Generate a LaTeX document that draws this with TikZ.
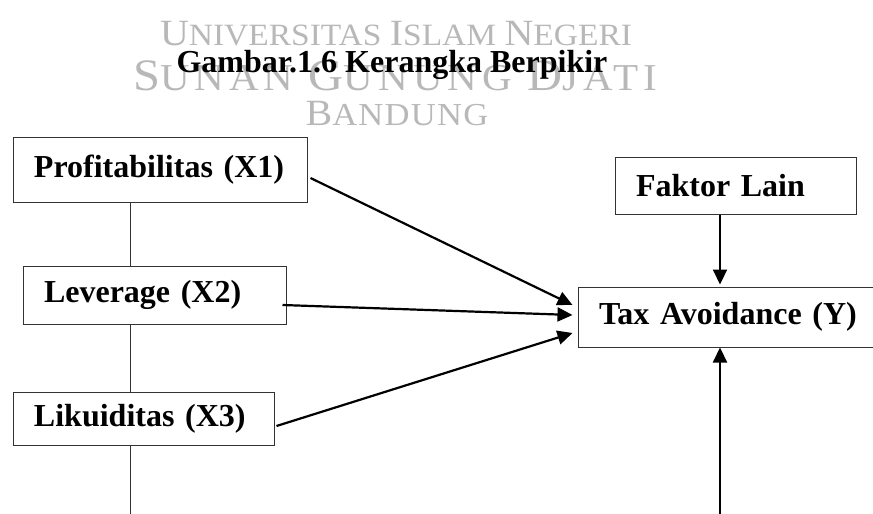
\documentclass[tikz,border=0pt]{standalone}
\usepackage{fontspec}
\setmainfont{Liberation Serif}
\newfontfamily\wmfont[FakeStretch=1.08]{Liberation Serif}
\usetikzlibrary{arrows.meta}

% big first letter, smaller rest
\newcommand{\capword}[4]{{\fontsize{#1}{#1}\selectfont #3}{\fontsize{#2}{#2}\selectfont #4}}

\tikzset{
  varbox/.style={draw=black!80,line width=1pt,rectangle,inner xsep=21pt,inner ysep=0pt,
    align=left,font=\fontsize{32}{38}\selectfont\bfseries},
  link/.style={line width=2.2pt,-{Triangle[length=15pt,width=14pt]}},
  spine/.style={line width=1pt,draw=black!80},
  watermark/.style={text=black!28,inner sep=0pt,anchor=base}
}

\begin{document}
\begin{tikzpicture}[x=1pt,y=-1pt]
	\useasboundingbox (0,0) rectangle (873,514);

	% Watermark
	\node[watermark,font=\wmfont\fontsize{31}{31}\selectfont] (wm1) at (396,45) {\capword{37}{31}{U}{NIVERSITAS} \capword{37}{31}{I}{SLAM} \capword{37}{31}{N}{EGERI}};
	\node[watermark,font=\wmfont\fontsize{38}{38}\selectfont] (wm2) at (395,90) {\addfontfeatures{LetterSpace=13}\capword{45}{38}{S}{UNAN} \capword{45}{38}{G}{UNUNG} \capword{45}{38}{D}{JATI}};
	\node[watermark,font=\wmfont\fontsize{32}{32}\selectfont] (wm3) at (397,125) {\addfontfeatures{LetterSpace=4}\capword{37}{32}{B}{ANDUNG}};

	% Title
	\node[anchor=base,inner sep=0pt,font=\fontsize{32}{38}\selectfont\bfseries] (title) at (392,72) {Gambar.1.6 Kerangka Berpikir};

	% Variables
	\node[varbox,text width=252pt,minimum height=65pt] (prof) at (160,169.5) {Profitabilitas (X1)};
	\node[varbox,text width=221pt,minimum height=58pt] (lev) at (154.5,295) {Leverage (X2)};
	\node[varbox,text width=219pt,minimum height=53pt] (lik) at (143.5,418.5) {Likuiditas (X3)};
	\node[varbox,text width=199pt,minimum height=57pt] (faktor) at (735.5,185.5) {Faktor Lain};
	\node[varbox,text width=260pt,minimum height=60pt] (tax) at (729,317) {Tax Avoidance (Y)};

	% Line joining the X boxes
	\coordinate (spine) at (130,514);
	\draw[spine] (prof.south -| spine) -- (lev.north -| spine);
	\draw[spine] (lev.south -| spine) -- (lik.north -| spine);
	\draw[spine] (lik.south -| spine) -- (spine);

	% Arrows to Y
	\draw[link] ([xshift=3pt,yshift=-8.5pt]prof.east) -- ([xshift=-5pt,yshift=12pt]tax.west);
	\draw[link] ([xshift=-4pt,yshift=-10pt]lev.east) -- ([xshift=-5pt,yshift=2pt]tax.west);
	\draw[link] ([xshift=2pt,yshift=-7.5pt]lik.east) -- ([xshift=-5pt,yshift=-16pt]tax.west);

	\coordinate (yline) at (720,514);
	\draw[link] (faktor.south -| yline) -- ([yshift=2pt]tax.north -| yline);
	\draw[link] (yline) -- (tax.south -| yline);

\end{tikzpicture}
\end{document}
